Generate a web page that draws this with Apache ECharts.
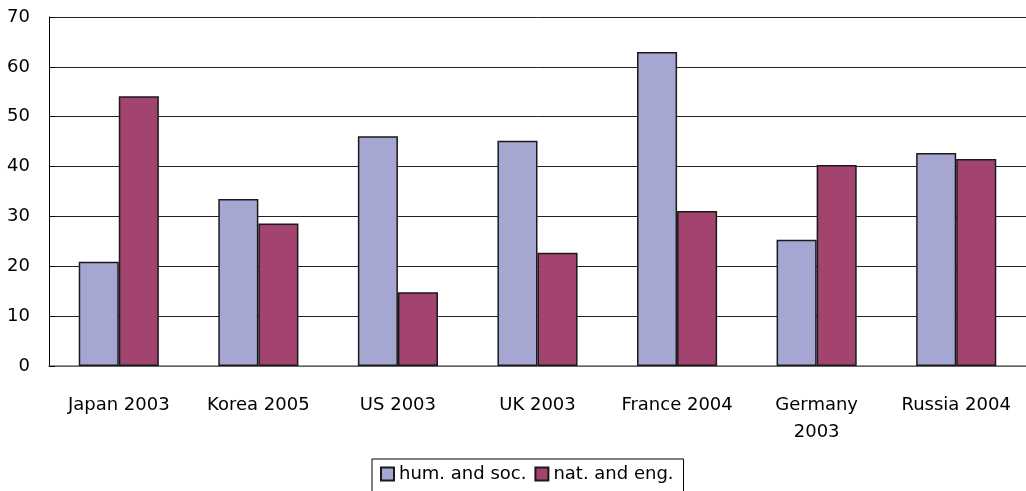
<!DOCTYPE html>
<html>
<head>
<meta charset="utf-8">
<script src="https://cdn.jsdelivr.net/npm/echarts@6/dist/echarts.min.js"></script>
<style>
html,body{margin:0;padding:0;background:#fff;}
#chart{width:1026px;height:491px;}
</style>
</head>
<body>
<div id="chart"></div>
<script>
const categories = ['Japan 2003', 'Korea 2005', 'US 2003', 'UK 2003', 'France 2004', 'Germany\n2003', 'Russia 2004'];
const humSoc = [20.9, 33.5, 46.1, 45.2, 63.0, 25.3, 42.7];
const natEng = [54.1, 28.6, 14.8, 22.7, 31.1, 40.3, 41.5];
const seriesNames = ['hum. and soc.', 'nat. and eng.'];
const yTicks = {min: 0, max: 70, interval: 10};

const FONT = 'DejaVu Sans';
const chart = echarts.init(document.getElementById('chart'), null, {renderer: 'canvas'});
chart.setOption({
  animation: false,
  backgroundColor: '#fff',
  textStyle: {fontFamily: FONT},
  grid: {left: 49, right: 0, top: 17, bottom: 125, containLabel: false},
  legend: {
    left: 372, top: 459,
    data: seriesNames,
    icon: 'rect',
    itemWidth: 13, itemHeight: 13, itemGap: 8,
    padding: [6, 10, 10, 8],
    borderColor: '#000', borderWidth: 1,
    textStyle: {fontFamily: FONT, fontSize: 18, color: '#000'}
  },
  xAxis: {
    type: 'category',
    data: categories,
    axisLine: {lineStyle: {color: '#777', width: 1.5}},
    axisTick: {inside: true, length: 8, lineStyle: {color: '#000'}},
    axisLabel: {fontFamily: FONT, fontSize: 18, color: '#000', margin: 26, lineHeight: 27, interval: 0}
  },
  yAxis: {
    type: 'value',
    min: yTicks.min, max: yTicks.max, interval: yTicks.interval,
    axisLine: {show: true, lineStyle: {color: '#000', width: 1}},
    axisTick: {show: true, inside: true, length: 6, lineStyle: {color: '#000'}},
    axisLabel: {fontFamily: FONT, fontSize: 18, color: '#000', margin: 19},
    splitLine: {show: true, lineStyle: {color: '#222', width: 1}}
  },
  series: [
    {
      name: seriesNames[0], type: 'bar', data: humSoc,
      barGap: '0%', barCategoryGap: '42.6%',
      itemStyle: {color: '#A6A6D2', borderColor: '#1a1a1a', borderWidth: 1.5}
    },
    {
      name: seriesNames[1], type: 'bar', data: natEng,
      barGap: '0%', barCategoryGap: '42.6%',
      itemStyle: {color: '#A3436F', borderColor: '#1a1a1a', borderWidth: 1.5}
    }
  ]
});
</script>
</body>
</html>
